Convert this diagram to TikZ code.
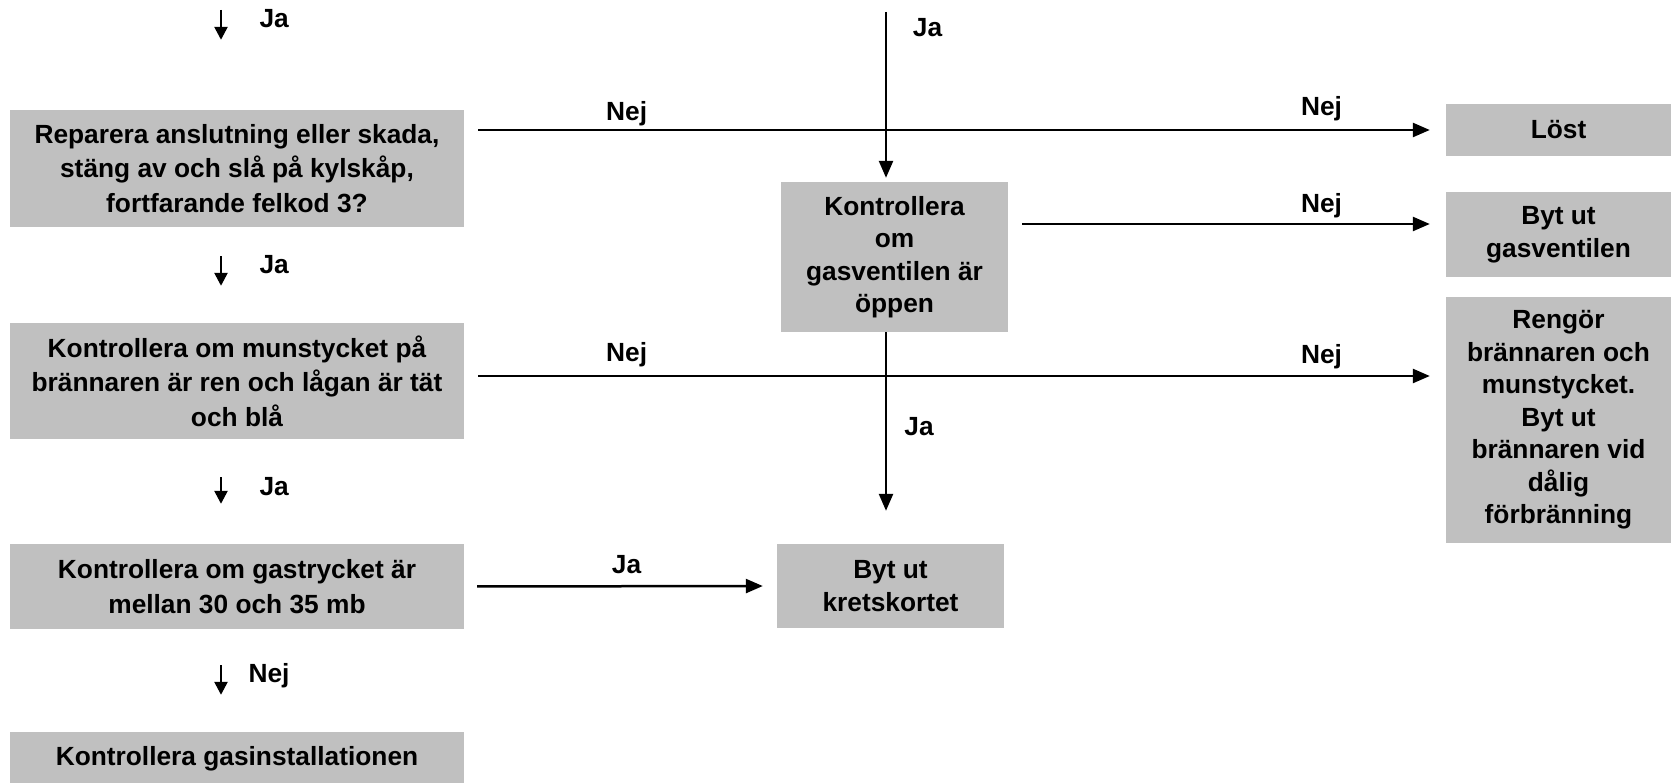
\documentclass[tikz,border=0pt]{standalone}
\usepackage{fontspec}
\setmainfont{Liberation Sans}
\usetikzlibrary{arrows.meta,calc}
\definecolor{boxgray}{RGB}{192,192,192}

\begin{document}
\begin{tikzpicture}[x=1pt,y=-1pt,
	box/.style={fill=boxgray,inner sep=0pt,align=center,font=\fontsize{26.3}{32.5}\selectfont\bfseries},
	wbox/.style={box,font=\fontsize{26.3}{34.5}\selectfont\bfseries},
	lbl/.style={font=\fontsize{26.3}{33}\selectfont\bfseries},
	arr/.style={line width=2.5pt,-{Triangle[length=17pt,width=14pt]}},
	sarr/.style={line width=2.5pt,-{Triangle[length=13pt,width=13pt]}}]
\useasboundingbox (0,0) rectangle (1671,783);
% left column
\node[wbox,minimum width=454,minimum height=117] (R1) at (237,168.5) {Reparera anslutning eller skada,\\ stäng av och slå på kylskåp,\\ fortfarande felkod 3?};
\node[wbox,minimum width=454,minimum height=116] (R2) at (237,381) {Kontrollera om munstycket på\\ brännaren är ren och lågan är tät\\ och blå};
\node[wbox,minimum width=454,minimum height=85] (R3) at (237,586.5) {Kontrollera om gastrycket är\\ mellan 30 och 35 mb};
\node[wbox,minimum width=454,minimum height=54] (R4) at (237,759) {Kontrollera gasinstallationen};
% middle
\node[box,minimum width=227,minimum height=150] (G) at (894.5,257) {Kontrollera\\ om\\ gasventilen är\\ öppen};
\node[box,minimum width=227,minimum height=84] (Krets) at (890.5,586) {Byt ut\\ kretskortet};
% right column
\node[box,minimum width=225,minimum height=52] (Lost) at (1558.5,130) {Löst};
\node[box,minimum width=225,minimum height=85] (Ventil) at (1558.5,234.5) {Byt ut\\ gasventilen};
\node[box,minimum width=225,minimum height=246] (Rengor) at (1558.5,420) {Rengör\\ brännaren och\\ munstycket.\\ Byt ut\\ brännaren vid\\ dålig\\ förbränning};

% small arrows on the left
\coordinate (lin) at (221,10);
\draw[sarr,shorten >=70pt] (lin) -- (lin |- R1.north);
\foreach \a/\b/\s/\e in {R1/R2/29/37,R2/R3/38/40,R3/R4/36/37}{
	\draw[sarr,shorten <=\s pt,shorten >=\e pt] (lin |- \a.south) -- (lin |- \b.north);
}
\node[lbl,anchor=west] (ja1) at (256,19) {Ja};
\node[lbl,anchor=west] (ja2) at (256,265) {Ja};
\node[lbl,anchor=west] (ja3) at (256,487) {Ja};
\node[lbl,anchor=west] (nej4) at (245,676) {Nej};

% long connectors
\coordinate (gout) at ($(G.east)+(0,-33)$);
\coordinate (rout) at ($(R2.east)+(0,-5)$);
\draw[arr,shorten <=14pt,shorten >=16pt] (R1.east |- Lost.west) -- (Lost.west);
\draw[arr,shorten <=14pt,shorten >=16pt] (gout) -- (gout -| Ventil.west);
\draw[arr,shorten <=14pt,shorten >=16pt] (rout) -- (rout -| Rengor.west);
\draw[arr,shorten <=13pt,shorten >=14pt] (R3.east) -- (Krets.west);
\coordinate (topin) at (886,12);
\draw[arr,shorten >=4pt] (topin) -- (topin |- G.north);
\draw[arr,shorten >=33pt] (topin |- G.south) -- (topin |- Krets.north);

% labels
\node[lbl] (ja5) at (927.5,28) {Ja};
\node[lbl] (ja6) at (919,427) {Ja};
\node[lbl] (nej1) at (626.6,114) {Nej};
\node[lbl] (nej2) at (1321.5,109) {Nej};
\node[lbl] (nej3) at (1321.5,206) {Nej};
\node[lbl] (nej5) at (626.6,355) {Nej};
\node[lbl] (nej6) at (1321.5,357) {Nej};
\node[lbl] (ja7) at (626.6,565) {Ja};
\end{tikzpicture}
\end{document}
